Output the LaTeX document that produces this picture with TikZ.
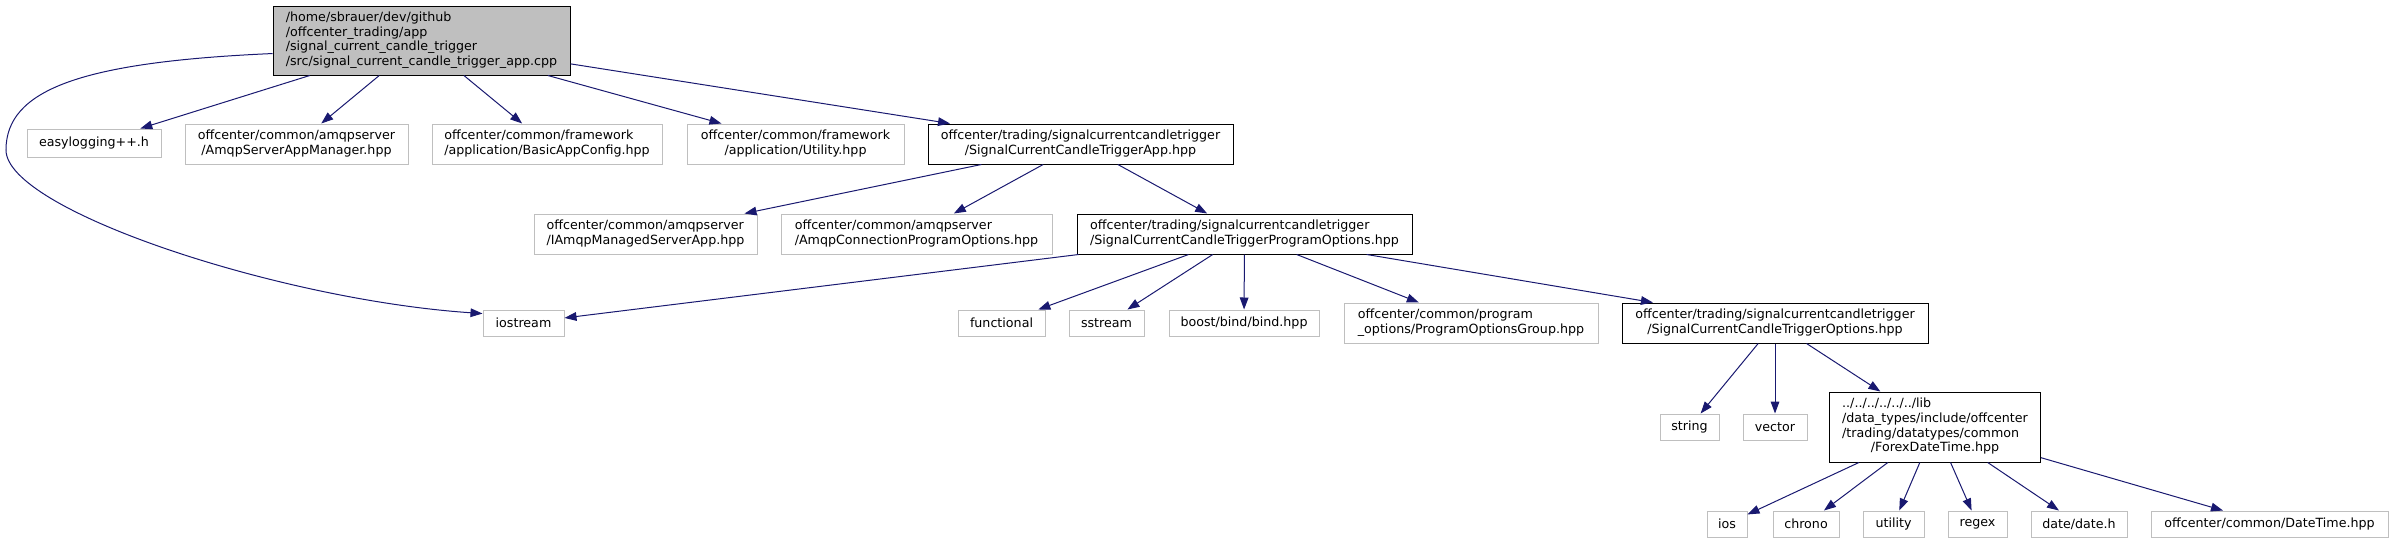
\documentclass[tikz,border=0pt]{standalone}
\usepackage{fontspec}
\setmainfont{DejaVu Sans}
\usetikzlibrary{arrows.meta}

\definecolor{edgeblue}{HTML}{191970}
\definecolor{boxgray}{HTML}{BFBFBF}

\tikzset{
  wh/.style 2 args={minimum width=#1*0.75pt, minimum height=#2*0.75pt},
  file/.style={draw=boxgray, line width=0.75pt, inner sep=0pt, font=\fontsize{9.5}{11}\selectfont},
  docfile/.style={file, draw=black},
  rootfile/.style={docfile, fill=boxgray},
  dep/.style={draw=edgeblue, line width=0.75pt, -{Triangle[length=9pt,width=6.5pt]}},
}
\newcommand{\lastcentered}[2]{\begin{tabular}{@{}l@{}}#1\\\multicolumn{1}{@{}c@{}}{#2}\end{tabular}}

\begin{document}
\begin{tikzpicture}[x=0.75pt, y=-0.75pt]
    \useasboundingbox (0,0) rectangle (2394,543);

    % Draw nodes
    \node[rootfile, wh={297}{69}] (root) at (421.5,40.5) {\lastcentered{/home/sbrauer/dev/github\\/offcenter\_trading/app\\/signal\_current\_candle\_trigger}{/src/signal\_current\_candle\_trigger\_app.cpp}};

    \node[file, wh={134}{28}] (easylog) at (94,143) {easylogging++.h};
    \node[file, wh={223}{40}] (mgr) at (296.5,144) {\lastcentered{offcenter/common/amqpserver}{/AmqpServerAppManager.hpp}};
    \node[file, wh={230}{40}] (cfg) at (547,144) {\lastcentered{offcenter/common/framework}{/application/BasicAppConfig.hpp}};
    \node[file, wh={217}{40}] (util) at (795.5,144) {\lastcentered{offcenter/common/framework}{/application/Utility.hpp}};
    \node[docfile, wh={305}{40}] (app) at (1080.5,144) {\lastcentered{offcenter/trading/signalcurrentcandletrigger}{/SignalCurrentCandleTriggerApp.hpp}};

    \node[file, wh={223}{40}] (srv) at (645.5,234) {\lastcentered{offcenter/common/amqpserver}{/IAmqpManagedServerApp.hpp}};
    \node[file, wh={271}{40}] (conn) at (916.5,234) {\lastcentered{offcenter/common/amqpserver}{/AmqpConnectionProgramOptions.hpp}};
    \node[docfile, wh={335}{40}] (popt) at (1244.5,234) {\lastcentered{offcenter/trading/signalcurrentcandletrigger}{/SignalCurrentCandleTriggerProgramOptions.hpp}};

    \node[file, wh={81}{26}] (iostr) at (523.5,323) {iostream};
    \node[file, wh={87}{26}] (func) at (1001.5,323) {functional};
    \node[file, wh={75}{26}] (sstr) at (1106.5,323) {sstream};
    \node[file, wh={150}{26}] (bind) at (1244,323) {boost/bind/bind.hpp};
    \node[file, wh={254}{40}] (grp) at (1471,323) {\lastcentered{offcenter/common/program}{\_options/ProgramOptionsGroup.hpp}};
    \node[docfile, wh={306}{40}] (opts) at (1775,323) {\lastcentered{offcenter/trading/signalcurrentcandletrigger}{/SignalCurrentCandleTriggerOptions.hpp}};

    \node[file, wh={59}{26}] (str) at (1689.5,427) {string};
    \node[file, wh={64}{26}] (vec) at (1775,427) {vector};
    \node[docfile, wh={211}{70}] (fdt) at (1935,427) {\lastcentered{../../../../../../lib\\/data\_types/include/offcenter\\/trading/datatypes/common}{/ForexDateTime.hpp}};

    \node[file, wh={40}{26}] (ios) at (1727,524) {ios};
    \node[file, wh={66}{26}] (chr) at (1806,524) {chrono};
    \node[file, wh={61}{26}] (utl) at (1893.5,524) {utility};
    \node[file, wh={59}{26}] (rgx) at (1977.5,524) {regex};
    \node[file, wh={96}{26}] (date) at (2079,524) {date/date.h};
    \node[file, wh={237}{26}] (dtime) at (2269.5,524) {offcenter/common/DateTime.hpp};

    % Draw connections
    \draw[dep] (root) -- (easylog);
    \draw[dep] (root) -- (mgr);
    \draw[dep] (root) -- (cfg);
    \draw[dep] (root) -- (util);
    \draw[dep] (root) -- (app);
    \draw[dep] (root.185) .. controls (80,62) and (6,90) .. (6,150)
                          .. controls (6,210) and (280,300) .. (iostr.167);

    \draw[dep] (app) -- (srv);
    \draw[dep] (app) -- (conn);
    \draw[dep] (app) -- (popt);

    \draw[dep] (popt) -- (iostr);
    \draw[dep] (popt) -- (func);
    \draw[dep] (popt) -- (sstr);
    \draw[dep] (popt) -- (bind);
    \draw[dep] (popt) -- (grp);
    \draw[dep] (popt) -- (opts);

    \draw[dep] (opts) -- (str);
    \draw[dep] (opts) -- (vec);
    \draw[dep] (opts) -- (fdt);

    \draw[dep] (fdt) -- (ios);
    \draw[dep] (fdt) -- (chr);
    \draw[dep] (fdt) -- (utl);
    \draw[dep] (fdt) -- (rgx);
    \draw[dep] (fdt) -- (date);
    \draw[dep] (fdt) -- (dtime);
\end{tikzpicture}
\end{document}
